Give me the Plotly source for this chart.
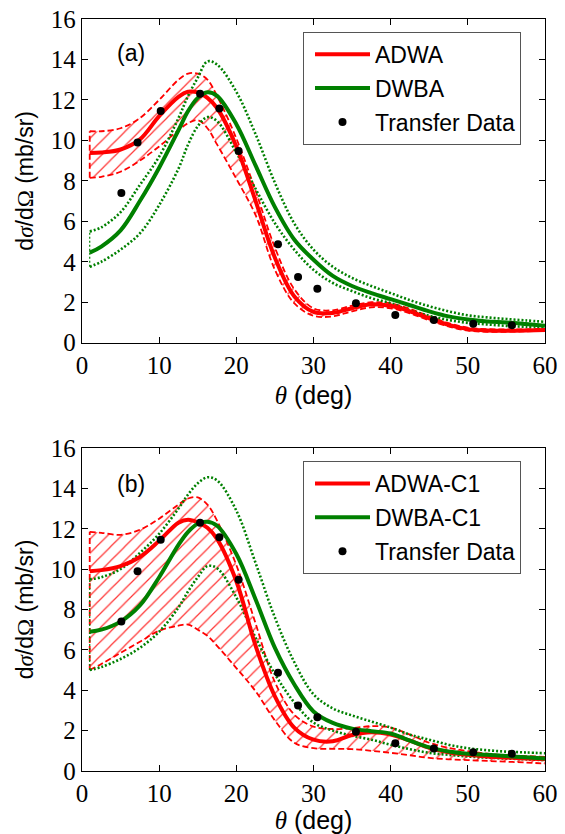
import plotly.graph_objects as go

# ---------------- data ----------------
theta = [1, 2.5, 5, 7.5, 10, 12.5, 13.75, 15, 16.25, 17.5, 20, 22.5, 25, 27.5,
         30, 32.5, 35, 37.5, 40, 42.5, 45, 47.5, 50, 52.5, 55, 57.5, 60]

# panel (a)
adwa_a = [9.38, 9.4, 9.55, 10.05, 11.2, 12.15, 12.4, 12.37, 12.1, 11.6, 9.7, 7.0, 4.2, 2.3,
          1.52, 1.47, 1.7, 1.9, 1.82, 1.55, 1.2, 0.88, 0.67, 0.6, 0.59, 0.6, 0.62]
adwa_a_hi = [10.45, 10.45, 10.6, 11.1, 12.0, 13.0, 13.3, 13.3, 13.0, 12.2, 10.1, 7.5, 4.7, 2.65,
             1.7, 1.6, 1.83, 2.0, 1.94, 1.67, 1.3, 0.97, 0.74, 0.67, 0.65, 0.66, 0.68]
adwa_a_lo = [8.15, 8.2, 8.45, 9.0, 9.7, 10.5, 10.85, 11.0, 10.6, 9.8, 8.1, 6.3, 3.6, 1.95,
             1.33, 1.3, 1.55, 1.75, 1.7, 1.45, 1.1, 0.8, 0.6, 0.54, 0.54, 0.56, 0.58]
dwba_a = [4.45, 4.75, 5.55, 7.0, 8.65, 10.5, 11.45, 12.1, 12.38, 12.2, 10.8, 8.75, 6.7, 5.1,
          4.1, 3.3, 2.8, 2.45, 2.15, 1.85, 1.55, 1.3, 1.15, 1.05, 1.0, 0.92, 0.83]
dwba_a_hi = [5.5, 5.7, 6.45, 7.8, 9.2, 11.1, 12.2, 13.1, 13.9, 13.75, 12.4, 10.3, 7.9, 5.9,
             4.6, 3.75, 3.2, 2.8, 2.45, 2.1, 1.8, 1.55, 1.35, 1.25, 1.17, 1.1, 1.03]
dwba_a_lo = [3.75, 4.0, 4.6, 5.4, 6.8, 8.6, 9.8, 10.7, 11.15, 10.95, 9.4, 7.6, 5.9, 4.6,
             3.6, 2.95, 2.55, 2.2, 1.95, 1.6, 1.33, 1.12, 0.98, 0.9, 0.83, 0.78, 0.74]

# panel (b)
adwa_b = [9.9, 9.95, 10.15, 10.6, 11.4, 12.3, 12.45, 12.32, 12.05, 11.5, 9.4, 6.2, 3.7, 2.15,
          1.55, 1.47, 1.78, 1.92, 1.8, 1.5, 1.15, 0.93, 0.8, 0.72, 0.67, 0.62, 0.58]
adwa_b_hi = [11.85, 11.8, 11.7, 11.95, 12.5, 13.2, 13.5, 13.55, 13.2, 12.4, 10.2, 7.3, 4.4, 2.8,
             2.2, 2.08, 2.12, 2.22, 2.15, 1.8, 1.4, 1.15, 0.98, 0.86, 0.78, 0.74, 0.7]
adwa_b_lo = [5.0, 5.3, 5.85, 6.4, 6.95, 7.2, 7.25, 7.0, 6.7, 6.2, 5.1, 3.95, 2.5, 1.4,
             1.13, 1.1, 1.08, 1.0, 0.9, 0.78, 0.65, 0.58, 0.54, 0.5, 0.46, 0.42, 0.37]
dwba_b = [6.9, 7.0, 7.4, 8.2, 9.6, 11.2, 11.85, 12.25, 12.35, 12.15, 10.75, 8.5, 6.1, 4.3,
          2.95, 2.38, 2.1, 1.97, 1.86, 1.5, 1.17, 0.97, 0.86, 0.8, 0.74, 0.68, 0.62]
dwba_b_hi = [9.5, 9.6, 10.0, 10.8, 11.75, 13.0, 13.7, 14.25, 14.55, 14.4, 12.9, 10.3, 7.6, 5.4,
             3.8, 3.1, 2.75, 2.45, 2.15, 1.8, 1.55, 1.3, 1.13, 1.03, 0.96, 0.92, 0.88]
dwba_b_lo = [5.0, 5.15, 5.55, 6.1, 6.9, 8.1, 8.9, 9.6, 10.15, 10.05, 8.6, 6.6, 4.8, 3.4,
             2.4, 2.0, 1.75, 1.55, 1.3, 1.08, 0.9, 0.8, 0.72, 0.66, 0.62, 0.58, 0.54]

# transfer data
data_theta = [5.1, 7.2, 10.2, 15.3, 17.8, 20.3, 25.4, 28.0, 30.5, 35.5, 40.6, 45.6, 50.7, 55.7]
data_xs = [7.4, 9.9, 11.45, 12.3, 11.58, 9.48, 4.87, 3.24, 2.66, 1.95, 1.37, 1.12, 0.93, 0.86]

x_ticks = [0, 10, 20, 30, 40, 50, 60]
y_ticks = [0, 2, 4, 6, 8, 10, 12, 14, 16]

RED = "#ff0000"
GREEN = "#008000"
SANS = "Liberation Sans"
SERIF = "Liberation Serif"

fig = go.Figure()


def add_panel(xa, ya, leg, adwa, a_hi, a_lo, dwba, d_hi, d_lo, names):
    common = dict(xaxis=xa, yaxis=ya, showlegend=False, hoverinfo="skip")
    # red hatched band
    fig.add_trace(go.Scatter(x=theta, y=a_lo, mode="lines",
                             line=dict(color=RED, width=1.8, dash="6px,3px", shape="spline"),
                             **common))
    fig.add_trace(go.Scatter(x=theta, y=a_hi, mode="lines", fill="tonexty",
                             fillcolor="rgba(255,0,0,0)",
                             fillpattern=dict(shape="/", fgcolor=RED, fgopacity=0.8,
                                              bgcolor="rgba(0,0,0,0)", size=10, solidity=0.12),
                             line=dict(color=RED, width=1.8, dash="6px,3px", shape="spline"),
                             **common))
    fig.add_trace(go.Scatter(x=[theta[0], theta[0]], y=[a_lo[0], a_hi[0]], mode="lines",
                             line=dict(color=RED, width=1.8, dash="6px,3px"), **common))
    # green dotted band
    for arr in (d_lo, d_hi):
        fig.add_trace(go.Scatter(x=theta, y=arr, mode="lines",
                                 line=dict(color=GREEN, width=2.6, dash="2px,2px", shape="spline"),
                                 **common))
    fig.add_trace(go.Scatter(x=[theta[0], theta[0]], y=[d_lo[0], d_hi[0]], mode="lines",
                             line=dict(color=GREEN, width=1.2, dash="2px,2px"), **common))
    # central curves
    fig.add_trace(go.Scatter(x=theta, y=adwa, mode="lines", name=names[0],
                             line=dict(color=RED, width=4, shape="spline"),
                             xaxis=xa, yaxis=ya, legend=leg, legendgroup=leg + "1",
                             hoverinfo="skip"))
    fig.add_trace(go.Scatter(x=theta, y=dwba, mode="lines", name=names[1],
                             line=dict(color=GREEN, width=4, shape="spline"),
                             xaxis=xa, yaxis=ya, legend=leg, legendgroup=leg + "2",
                             hoverinfo="skip"))
    fig.add_trace(go.Scatter(x=data_theta, y=data_xs, mode="markers", name="Transfer Data",
                             marker=dict(color="black", size=8),
                             xaxis=xa, yaxis=ya, legend=leg, legendgroup=leg + "3",
                             hoverinfo="skip"))


add_panel("x", "y", "legend", adwa_a, adwa_a_hi, adwa_a_lo, dwba_a, dwba_a_hi, dwba_a_lo,
          ["ADWA", "DWBA"])
add_panel("x2", "y2", "legend2", adwa_b, adwa_b_hi, adwa_b_lo, dwba_b, dwba_b_hi, dwba_b_lo,
          ["ADWA-C1", "DWBA-C1"])

axis_common = dict(showline=True, linecolor="black", linewidth=1.3, mirror="allticks",
                   ticks="inside", ticklen=6, tickwidth=1, tickcolor="black",
                   showgrid=False, zeroline=False, automargin=False,
                   tickfont=dict(family=SERIF, size=25, color="black"))

xtitle = dict(text=f'<span style="font-family:{SERIF}"><i>θ</i></span> (deg)',
              font=dict(family=SANS, size=25, color="black"), standoff=8)
ytitle = dict(text=f'd<span style="font-family:{SERIF}"><i>σ</i></span>/d'
                   f'<span style="font-family:{SERIF}">Ω</span> (mb/sr)',
              font=dict(family=SANS, size=23, color="black"), standoff=10)

legend_common = dict(x=(303 - 82) / 463, xref="paper", yref="paper",
                     xanchor="left", yanchor="top", bgcolor="white",
                     bordercolor="#555555", borderwidth=1,
                     font=dict(family=SANS, size=23, color="black"),
                     traceorder="grouped", tracegroupgap=1, itemwidth=55,
                     indentation=6)

fig.update_layout(
    width=565, height=834,
    margin=dict(l=82, r=20, t=19, b=63),
    paper_bgcolor="white", plot_bgcolor="white",
    xaxis=dict(domain=[0, 1], range=[0, 60], tickvals=x_ticks, anchor="y",
               title=xtitle, **axis_common),
    yaxis=dict(domain=[0.5696, 1], range=[0, 16], tickvals=y_ticks, anchor="x",
               title=ytitle, **axis_common),
    xaxis2=dict(domain=[0, 1], range=[0, 60], tickvals=x_ticks, anchor="y2",
                title=xtitle, **axis_common),
    yaxis2=dict(domain=[0, 0.4295], range=[0, 16], tickvals=y_ticks, anchor="x2",
                title=ytitle, **axis_common),
    legend=dict(y=1 - (31.7 - 19) / 752, **legend_common),
    legend2=dict(y=1 - (461 - 19) / 752, **legend_common),
    annotations=[
        dict(text="(a)", x=6.3, y=14.3, xref="x", yref="y", showarrow=False,
             font=dict(family=SANS, size=23, color="black")),
        dict(text="(b)", x=6.3, y=14.2, xref="x2", yref="y2", showarrow=False,
             font=dict(family=SANS, size=23, color="black")),
    ],
)

# remove the default 8px page margin so the figure fills the window exactly
fig.write_html("out.html", config={"displayModeBar": False},
               post_script="document.body.style.margin='0px';")
